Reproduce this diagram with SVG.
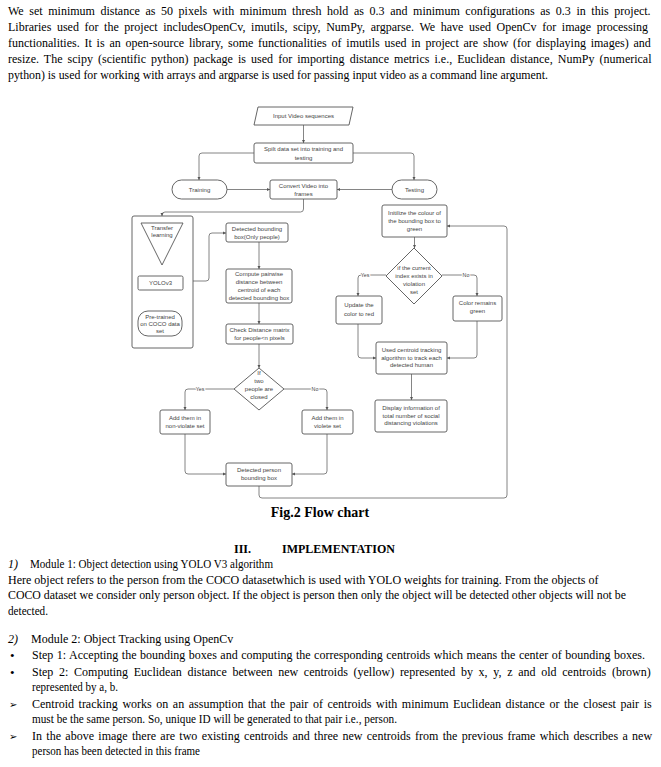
<svg xmlns="http://www.w3.org/2000/svg" width="661" height="767" viewBox="0 0 661 767">
<defs>
<marker id="a" viewBox="0 0 6 6" refX="6" refY="3" markerWidth="4" markerHeight="4" orient="auto">
<path d="M0,0 L6,3 L0,6 Z" fill="#555"/>
</marker>
<style>
.n{fill:#fff;stroke:#555;stroke-width:0.9}
.t{font-family:"Liberation Sans",Arial,sans-serif;font-size:6px;fill:#444;text-anchor:middle;dominant-baseline:central}
.l{font-family:"Liberation Sans",Arial,sans-serif;font-size:5.3px;fill:#444;text-anchor:middle;dominant-baseline:central;paint-order:stroke;stroke:#fff;stroke-width:2px}
.ca{fill:none;stroke:#666;stroke-width:0.8;marker-end:url(#a)}
.b{font-family:"Liberation Serif","Times New Roman",serif;font-size:12px;fill:#000}
.bb{font-family:"Liberation Serif","Times New Roman",serif;font-size:12px;font-weight:bold;fill:#000}
.bi{font-family:"Liberation Serif","Times New Roman",serif;font-size:12px;font-style:italic;fill:#000}
.dot{font-family:"Liberation Serif","Times New Roman",serif;font-size:13px;fill:#000}
.sym{font-family:"DejaVu Sans",sans-serif;font-size:10px;fill:#000}
</style>
</defs>
<rect width="661" height="767" fill="#fff"/>

<g id="top-text">
<text class="b" x="8" y="15" word-spacing="2.6">We set minimum distance as 50 pixels with minimum thresh hold as 0.3 and minimum configurations as 0.3 in this project.</text>
<text class="b" x="8" y="31" word-spacing="2.6">Libraries used for the project includesOpenCv, imutils, scipy, NumPy, argparse. We have used OpenCv for image processing</text>
<text class="b" x="8" y="47" word-spacing="1.8">functionalities. It is an open-source library, some functionalities of imutils used in project are show (for displaying images) and</text>
<text class="b" x="8" y="63" word-spacing="2.1">resize. The scipy (scientific python) package is used for importing distance metrics i.e., Euclidean distance, NumPy (numerical</text>
<text class="b" x="8" y="79" textLength="540" lengthAdjust="spacingAndGlyphs">python) is used for working with arrays and argparse is used for passing input video as a command line argument.</text>
</g>

<g id="connectors">
<path class="ca" d="M303.5,125 V143"/>
<path class="ca" d="M254,153 H202 Q199,153 199,156 V180"/>
<path class="ca" d="M353,153 H411 Q414,153 414,156 V180"/>
<path class="ca" d="M227,189.5 H270"/>
<path class="ca" d="M392,189.5 H337"/>
<path class="ca" d="M303.5,199 V209 Q303.5,212 300.5,212 H165 Q162,212 162,215 V216"/>
<path class="ca" d="M162,265 V276"/>
<path class="ca" d="M160,311 V290"/>
<path class="ca" d="M193,281 H206 Q209,281 209,278 V236 Q209,233 212,233 H226"/>
<path class="ca" d="M259,242 V269"/>
<path class="ca" d="M259,303 V324"/>
<path class="ca" d="M259,344 V368"/>
<path class="ca" d="M234,389 H188 Q185,389 185,392 V410"/>
<path class="ca" d="M284,389 H324 Q327,389 327,392 V410"/>
<path class="ca" d="M185,434 V471 Q185,474 188,474 H226"/>
<path class="ca" d="M327,434 V471 Q327,474 324,474 H292"/>
<path class="ca" d="M259,486 V495 Q259,498 262,498 H504 Q507,498 507,495 V229 Q507,226 504,226 H447"/>
<path class="ca" d="M414.5,237 V248"/>
<path class="ca" d="M386,275 H361 Q358,275 358,278 V296"/>
<path class="ca" d="M442,275 H474 Q477,275 477,278 V296"/>
<path class="ca" d="M358,324 V355 Q358,358 361,358 H376"/>
<path class="ca" d="M477,321 V355 Q477,358 474,358 H447"/>
<path class="ca" d="M411.5,374 V400"/>
<text class="l" x="200" y="389">Yes</text>
<text class="l" x="315" y="389">No</text>
<text class="l" x="365" y="275">Yes</text>
<text class="l" x="466" y="275">No</text>
</g>

<g id="input">
<polygon class="n" points="258,107 353,107 349,125 254,125"/>
<text class="t" x="303.5" y="116">Input Video sequences</text>
</g>
<g id="split">
<rect class="n" x="254" y="143" width="99" height="20" rx="2"/>
<text class="t" x="303.5" y="149">Spilt data set into training and</text>
<text class="t" x="303.5" y="157.5">testing</text>
</g>
<g id="training">
<rect class="n" x="172" y="180" width="55" height="19" rx="9.5"/>
<text class="t" x="199.5" y="189.5">Training</text>
</g>
<g id="convert">
<rect class="n" x="270" y="180" width="67" height="19" rx="2"/>
<text class="t" x="303.5" y="185.5">Convert Video into</text>
<text class="t" x="303.5" y="193.5">frames</text>
</g>
<g id="testing">
<rect class="n" x="392" y="180" width="45" height="19" rx="9.5"/>
<text class="t" x="414.5" y="189.5">Testing</text>
</g>
<g id="initialize">
<rect class="n" x="382" y="205" width="65" height="32" rx="2"/>
<text class="t" x="414.5" y="212.5">Initilize the colour of</text>
<text class="t" x="414.5" y="220.5">the bounding box to</text>
<text class="t" x="414.5" y="228.5">green</text>
</g>
<g id="model-group">
<rect class="n" x="132" y="216" width="61" height="132" rx="2"/>
</g>
<g id="transfer">
<polygon class="n" points="141,223 183,223 162,265"/>
<text class="t" x="162" y="228">Transfer</text>
<text class="t" x="162" y="235">learning</text>
</g>
<g id="yolo">
<rect class="n" x="138" y="276" width="45" height="14" rx="1.5"/>
<text class="t" x="160.5" y="283">YOLOv3</text>
</g>
<g id="pretrained">
<rect class="n" x="138" y="311" width="44" height="25" rx="10"/>
<text class="t" x="160" y="316.5">Pre-trained</text>
<text class="t" x="160" y="324">on COCO data</text>
<text class="t" x="160" y="331">set</text>
</g>
<g id="detected-bbox">
<rect class="n" x="226" y="223" width="62" height="19" rx="2"/>
<text class="t" x="257" y="228.5">Detected bounding</text>
<text class="t" x="257" y="236.5">box(Only people)</text>
</g>
<g id="compute">
<rect class="n" x="226" y="269" width="66" height="34" rx="2"/>
<text class="t" x="259" y="274">Compute pairwise</text>
<text class="t" x="259" y="282">distance between</text>
<text class="t" x="259" y="290">centroid of each</text>
<text class="t" x="259" y="298">detected bounding box</text>
</g>
<g id="check">
<rect class="n" x="226" y="324" width="67" height="20" rx="2"/>
<text class="t" x="259.5" y="330">Check Distance matrix</text>
<text class="t" x="259.5" y="338">for people&lt;n pixels</text>
</g>
<g id="close-decision">
<polygon class="n" points="259,368 284,389 259,410 234,389"/>
<text class="t" x="259" y="373">If</text>
<text class="t" x="259" y="381">two</text>
<text class="t" x="259" y="389">people are</text>
<text class="t" x="259" y="397">closed</text>
</g>
<g id="non-violate">
<rect class="n" x="160" y="410" width="50" height="24" rx="2"/>
<text class="t" x="185" y="418">Add them in</text>
<text class="t" x="185" y="426">non-violate set</text>
</g>
<g id="violate">
<rect class="n" x="302" y="410" width="51" height="24" rx="2"/>
<text class="t" x="327.5" y="418">Add them in</text>
<text class="t" x="327.5" y="426">violete set</text>
</g>
<g id="detected-person">
<rect class="n" x="226" y="463" width="66" height="23" rx="2"/>
<text class="t" x="259" y="470">Detected person</text>
<text class="t" x="259" y="478">bounding box</text>
</g>
<g id="violation-decision">
<polygon class="n" points="414,248 442,276 414,304 386,276"/>
<text class="t" x="414" y="268">if the current</text>
<text class="t" x="414" y="276">index exists in</text>
<text class="t" x="414" y="284">violation</text>
<text class="t" x="414" y="292">set</text>
</g>
<g id="update">
<rect class="n" x="336" y="296" width="46" height="28" rx="2"/>
<text class="t" x="359" y="305">Update the</text>
<text class="t" x="359" y="314">color to red</text>
</g>
<g id="remains">
<rect class="n" x="453" y="296" width="49" height="25" rx="2"/>
<text class="t" x="477.5" y="303">Color remains</text>
<text class="t" x="477.5" y="311">green</text>
</g>
<g id="tracking">
<rect class="n" x="376" y="342" width="71" height="32" rx="2"/>
<text class="t" x="411.5" y="350">Used centroid tracking</text>
<text class="t" x="411.5" y="357.5">algorithm to track each</text>
<text class="t" x="411.5" y="365">detected human</text>
</g>
<g id="display">
<rect class="n" x="375" y="400" width="72" height="32" rx="2"/>
<text class="t" x="411" y="408">Display information of</text>
<text class="t" x="411" y="415.5">total number of social</text>
<text class="t" x="411" y="423">distancing violations</text>
</g>

<g id="caption">
<text x="320" y="517" text-anchor="middle" font-family="'Liberation Serif','Times New Roman',serif" font-size="14" font-weight="bold">Fig.2 Flow chart</text>
</g>

<g id="bottom-text">
<text class="bb" x="234" y="553">III.</text>
<text class="bb" x="282" y="553">IMPLEMENTATION</text>
<text class="bi" x="8" y="568">1)</text>
<text class="b" x="30" y="568" textLength="243" lengthAdjust="spacingAndGlyphs">Module 1: Object detection using YOLO V3 algorithm</text>
<text class="b" x="8" y="584">Here object refers to the person from the COCO datasetwhich is used with YOLO weights for training. From the objects of</text>
<text class="b" x="8" y="599" textLength="618" lengthAdjust="spacingAndGlyphs">COCO dataset we consider only person object. If the object is person then only the object will be detected other objects will  not be</text>
<text class="b" x="8" y="615" textLength="40" lengthAdjust="spacingAndGlyphs">detected.</text>
<text class="bi" x="8" y="643">2)</text>
<text class="b" x="31" y="643">Module 2: Object Tracking using OpenCv</text>
<text class="dot" x="10" y="660">•</text>
<text class="b" x="32" y="659" word-spacing="0.5">Step 1: Accepting the bounding boxes and computing the corresponding centroids which means the center of bounding boxes.</text>
<text class="dot" x="10" y="677">•</text>
<text class="b" x="32" y="676" word-spacing="2.7">Step 2: Computing Euclidean distance between new centroids (yellow) represented by x, y, z and old centroids (brown)</text>
<text class="b" x="32" y="691" textLength="86" lengthAdjust="spacingAndGlyphs">represented by a, b.</text>
<text class="sym" x="9" y="708">➢</text>
<text class="b" x="32" y="708" word-spacing="1.55">Centroid tracking works on an assumption that the pair of centroids with minimum Euclidean distance or the closest pair is</text>
<text class="b" x="32" y="723" textLength="365" lengthAdjust="spacingAndGlyphs">must be the same person. So, unique ID will be generated to that pair i.e., person.</text>
<text class="sym" x="9" y="740">➢</text>
<text class="b" x="32" y="740" word-spacing="1.35">In the above image there are two existing centroids and three new centroids from the previous frame which describes a new</text>
<text class="b" x="32" y="755" textLength="168" lengthAdjust="spacingAndGlyphs">person has been detected in this frame</text>
</g>
</svg>
